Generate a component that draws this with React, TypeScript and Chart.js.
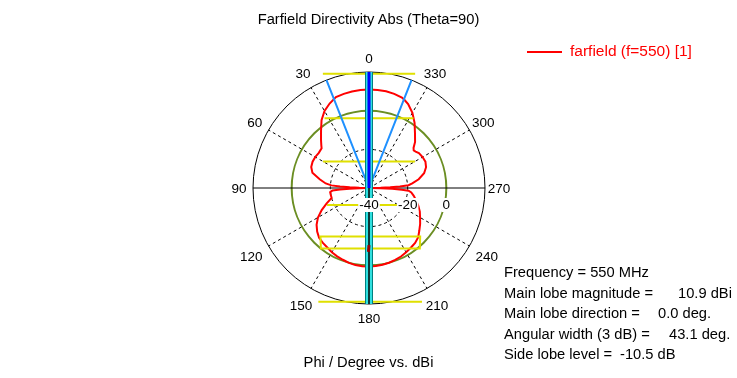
import React, { useEffect, useRef } from "react";
import { Chart, registerables } from "chart.js";

Chart.register(...registerables);

const FONT = '"Liberation Sans", Arial, sans-serif';
const DEG_STEP = 0.5;
const LABEL_COUNT = 720;

// Farfield directivity (phi in degrees, value in dBi)
const curvePhi = [
  0, 5, 10, 15, 20, 25, 30, 35, 40, 45, 48, 50, 55, 60, 65, 70, 75, 80, 84, 86, 87, 88, 89, 90,
  91, 92, 93, 94, 96, 100, 105, 110, 115, 120, 125, 130, 135, 140, 145, 150, 155, 160, 165, 170,
  175, 180, 185, 190, 195, 200, 205, 210, 215, 220, 225, 230, 235, 240, 245, 250, 255, 260, 264,
  266, 267, 268, 269, 270, 271, 272, 273, 274, 276, 280, 285, 290, 295, 300, 305, 308, 310, 312,
  315, 320, 325, 330, 335, 338, 340, 345, 350, 355,
];
const curveDbi = [
  10.9, 10.9, 10.7, 10.4, 10.0, 8.2, 6.0, 2.8, -1.4, -4.9, -6.8, -8.0, -8.3, -7.9, -7.8, -8.2,
  -9.7, -14.1, -17.5, -20.5, -25, -30, -35, -39.5, -35, -30, -25, -21, -19.8, -19.9, -20.0, -16.7,
  -13.0, -9.5, -6.9, -5.0, -3.5, -2.9, -2.4, -1.6, -1.0, -0.5, 0.1, 0.5, 0.6, 0.6, 0.5, 0.3, 0.0,
  -0.4, -0.9, -1.6, -2.3, -2.9, -4.0, -6.0, -7.7, -9.5, -11.0, -12.8, -14.7, -16.5, -18.0, -19.5,
  -23, -28, -34, -39.5, -34, -29, -24, -19.5, -17.5, -13.9, -10.5, -8.6, -7.8, -8.0, -8.5, -9.4,
  -9.8, -9.0, -6.3, -3.0, 1.1, 4.9, 7.9, 9.1, 9.8, 10.4, 10.8, 10.9,
];

// Radial scale
const radialMin = -40;
const radialMax = 20;
const radialStep = 20;
const referenceLevelDbi = 0;
const angleTickLabels = [0, 30, 60, 90, 120, 150, 180, 210, 240, 270, 300, 330];
const scaleTickLabels = [-40, -20, 0];
const scaleTickPhi = 270;

// Markers
const beamEdgePhi = [0, 338.5, 180, 21.5];
const beamEdgeDbi = [-40, 20, -40, 20];
const mainDirPhi = [0, 180];
const mainDirDbi = [20, -40];
const axisBandPhi = [0, 180];
const axisBandDbi = [20, 20];
const backAxisPhi = [180, 0];
const backAxisDbi = [20, -40];
const sideLobePhi = [180, 179.5];
const sideLobeDbi = [-10.5, -7.0];
const marker1Phi = [22, 338];
const marker1Dbi = [23.7, 23.7];
const marker2Phi = [32.5, 327.5];
const marker2Dbi = [2.8, 2.8];
const marker3Phi = [60, 300];
const marker3Dbi = [-12.5, -12.5];
const marker4Phi = [112, 248];
const marker4Dbi = [-16.6, -16.6];
const marker5Phi = [135, 141.5, 220, 226.5];
const marker5Dbi = [-4.5, 0.0, 0.9, -3.5];
const marker6Phi = [156, 205];
const marker6Dbi = [24.4, 24.9];

const infoLines = [
  ["Frequency = 550 MHz", ""],
  ["Main lobe magnitude =", "10.9 dBi"],
  ["Main lobe direction =", "0.0 deg."],
  ["Angular width (3 dB) =", "43.1 deg."],
  ["Side lobe level =", "-10.5 dB"],
];
const infoValueX = [0, 678, 658, 669, 620];

const phiToIndex = (phi: number) =>
  Math.round(((360 - phi) % 360) / DEG_STEP) % LABEL_COUNT;
const indexToPhi = (i: number) => ((LABEL_COUNT - i) % LABEL_COUNT) * DEG_STEP;

const labels = Array.from({ length: LABEL_COUNT }, (_, i) => String(indexToPhi(i)));

function sparse(phis: number[], vals: number[]) {
  const arr: (number | null)[] = new Array(LABEL_COUNT).fill(null);
  phis.forEach((p, k) => {
    arr[phiToIndex(p)] = vals[k];
  });
  return arr;
}

function ds(label: string, phis: number[], vals: number[], color: string, width: number) {
  return {
    label,
    data: sparse(phis, vals),
    borderColor: color,
    backgroundColor: color,
    borderWidth: width,
    pointRadius: 0,
    pointHoverRadius: 0,
    pointHitRadius: 0,
    fill: false,
    spanGaps: true,
    tension: 0,
    clip: false,
    borderCapStyle: "butt",
  };
}

const polarTextPlugin = {
  id: "polarText",
  afterDraw(chart: any) {
    const s = chart.scales.r;
    const ctx = chart.ctx;
    ctx.save();
    ctx.font = `13.5px ${FONT}`;
    ctx.textAlign = "center";
    ctx.textBaseline = "middle";
    ctx.fillStyle = "#000";
    angleTickLabels.forEach((phi) => {
      const lower = phi > 90 && phi < 270 && phi !== 180;
      const extra = lower ? 6 : phi % 90 === 0 ? 0 : 2;
      const p = s.getPointPosition(phiToIndex(phi), s.drawingArea + 14 + extra);
      ctx.fillText(String(phi), p.x, p.y + 1);
    });
    scaleTickLabels.forEach((v) => {
      const p = s.getPointPositionForValue(phiToIndex(scaleTickPhi), v);
      const t = String(v);
      const w = ctx.measureText(t).width;
      const y = p.y + 17;
      ctx.fillStyle = "#fff";
      ctx.fillRect(p.x - w / 2 - 1, y - 7, w + 2, 14);
      ctx.fillStyle = "#000";
      ctx.fillText(t, p.x, y);
    });
    ctx.restore();
  },
};

export default function App() {
  const ref = useRef<HTMLCanvasElement>(null);

  useEffect(() => {
    if (!ref.current) return;
    const chart = new Chart(ref.current, {
      type: "radar",
      data: {
        labels,
        datasets: [
          ds("side lobe", sideLobePhi, sideLobeDbi, "#a00000", 3),
          ds("back axis", backAxisPhi, backAxisDbi, "#000000", 1),
          ds("main direction", mainDirPhi, mainDirDbi, "#0000ff", 3),
          ds("axis band inner", axisBandPhi, axisBandDbi, "#30e0e0", 6),
          ds("axis band outer", axisBandPhi, axisBandDbi, "#008080", 8),
          ds("beam edges", beamEdgePhi, beamEdgeDbi, "#1e90ff", 2),
          ds("m1", marker1Phi, marker1Dbi, "#e0e000", 2),
          ds("m2", marker2Phi, marker2Dbi, "#e0e000", 2),
          ds("m3", marker3Phi, marker3Dbi, "#e0e000", 2),
          ds("m4", marker4Phi, marker4Dbi, "#e0e000", 2),
          ds("m5", marker5Phi, marker5Dbi, "#e0e000", 2),
          ds("m6", marker6Phi, marker6Dbi, "#e0e000", 2),
          ds("farfield (f=550) [1]", curvePhi, curveDbi, "#ff0000", 2),
        ] as any,
      },
      options: {
        responsive: false,
        maintainAspectRatio: false,
        animation: false,
        devicePixelRatio: 1,
        events: [],
        layout: { padding: { left: 253, right: 252, top: 72, bottom: 74 } },
        plugins: {
          legend: { display: false },
          title: { display: false },
          tooltip: { enabled: false },
        },
        scales: {
          r: {
            min: radialMin,
            max: radialMax,
            beginAtZero: false,
            ticks: { display: false, stepSize: radialStep },
            pointLabels: { display: false },
            grid: {
              circular: true,
              color: (c: any) =>
                c.tick && c.tick.value === radialMin
                  ? "rgba(0,0,0,0)"
                  : c.tick && c.tick.value === referenceLevelDbi
                  ? "#6b8e23"
                  : "#000000",
              lineWidth: (c: any) => (c.tick && c.tick.value === referenceLevelDbi ? 2 : 1),
            },
            border: {
              dash: (c: any) =>
                c.tick && c.tick.value > radialMin && c.tick.value < referenceLevelDbi ? [3, 3] : [],
            },
            angleLines: {
              display: true,
              color: "#000000",
              lineWidth: (c: any) => (indexToPhi(c.index) % 30 === 0 ? 1 : 0),
              borderDash: (c: any) => (indexToPhi(c.index) % 90 === 0 ? [] : [3, 3]),
            },
          },
        },
      } as any,
      plugins: [polarTextPlugin],
    });
    return () => chart.destroy();
  }, []);

  const textBase: React.CSSProperties = {
    position: "absolute",
    fontFamily: FONT,
    fontSize: 14.7,
    lineHeight: "18px",
    whiteSpace: "pre",
    color: "#000",
  };

  return (
    <div
      style={{
        position: "absolute",
        left: 0,
        top: 0,
        width: 737,
        height: 378,
        background: "#fff",
        overflow: "hidden",
      }}
    >
      <canvas
        ref={ref}
        width={737}
        height={378}
        style={{ position: "absolute", left: 0, top: 0, width: 737, height: 378 }}
      />
      <div style={{ ...textBase, left: 0, width: 737, top: 10, textAlign: "center" }}>
        Farfield Directivity Abs (Theta=90)
      </div>
      <div
        style={{ position: "absolute", left: 527, top: 51, width: 35, height: 2, background: "#ff0000" }}
      />
      <div style={{ ...textBase, left: 570, top: 42, fontSize: 15.5, color: "#ff0000" }}>
        farfield (f=550) [1]
      </div>
      {infoLines.map((ln, k) => (
        <React.Fragment key={k}>
          <div style={{ ...textBase, left: 504, top: 263 + k * 20.6 }}>{ln[0]}</div>
          {ln[1] ? (
            <div style={{ ...textBase, left: infoValueX[k], top: 263 + k * 20.6 }}>{ln[1]}</div>
          ) : null}
        </React.Fragment>
      ))}
      <div style={{ ...textBase, left: 0, width: 737, top: 353, textAlign: "center" }}>
        Phi / Degree vs. dBi
      </div>
    </div>
  );
}
